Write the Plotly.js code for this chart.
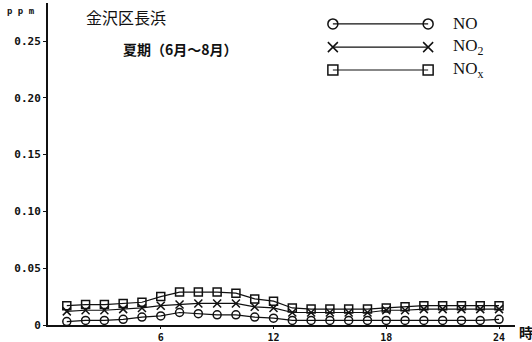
<!DOCTYPE html>
<html>
<head>
<meta charset="utf-8">
<script src="https://cdn.plot.ly/plotly-3.0.1.min.js"></script>
<style>
  html, body { margin: 0; padding: 0; background: #fff; }
  #chart { width: 532px; height: 342px; }
</style>
</head>
<body>
<div id="chart"></div>
<script>
// hours 1..24, values in ppm
const hours = [1, 2, 3, 4, 5, 6, 7, 8, 9, 10, 11, 12, 13, 14, 15, 16, 17, 18, 19, 20, 21, 22, 23, 24];
const noValues = [0.003, 0.004, 0.004, 0.005, 0.007, 0.008, 0.011, 0.010, 0.009, 0.009, 0.007, 0.006,
                  0.004, 0.004, 0.004, 0.004, 0.004, 0.004, 0.004, 0.004, 0.004, 0.004, 0.004, 0.005];
const no2Values = [0.012, 0.013, 0.013, 0.014, 0.015, 0.017, 0.018, 0.019, 0.019, 0.019, 0.016, 0.015,
                   0.011, 0.011, 0.011, 0.011, 0.011, 0.013, 0.013, 0.014, 0.014, 0.014, 0.014, 0.014];
const noxValues = [0.017, 0.018, 0.018, 0.019, 0.020, 0.025, 0.029, 0.029, 0.029, 0.028, 0.023, 0.021,
                   0.015, 0.014, 0.014, 0.014, 0.014, 0.015, 0.016, 0.017, 0.017, 0.017, 0.017, 0.017];
const xTicks = [6, 12, 18, 24];
const yTicks = [0, 0.05, 0.10, 0.15, 0.20, 0.25];
const yTickText = ['0', '0.05', '0.10', '0.15', '0.20', '0.25'];

const seriesNames = ['NO', 'NO\u2082', 'NO\u2093'];
const seriesSymbols = ['circle-open', 'x-thin-open', 'square-open'];
const seriesData = [noValues, no2Values, noxValues];

const traces = seriesData.map((vals, i) => ({
    type: 'scatter', mode: 'lines+markers', x: hours, y: vals, name: seriesNames[i],
    line: { color: '#111', width: 1.2 },
    marker: { symbol: seriesSymbols[i], size: 8, color: '#111', line: { width: 1.5, color: '#111' } },
    showlegend: false, cliponaxis: false
}));

// hand-made legend keys on an overlay axis (0..1 in both directions)
const legendRows = [0.935, 0.863, 0.792];
seriesNames.forEach((name, i) => {
    traces.push({
        type: 'scatter', mode: 'lines+markers', xaxis: 'x2', yaxis: 'y2',
        x: [0.61, 0.814], y: [legendRows[i], legendRows[i]],
        line: { color: '#111', width: 1.2 },
        marker: { symbol: seriesSymbols[i], size: 10, color: '#111', line: { width: 1.5, color: '#111' } },
        showlegend: false, hoverinfo: 'skip'
    });
});

const tickFont = { family: 'DejaVu Sans Mono', size: 11, color: '#111', weight: 'bold' };

const annotations = [
    { text: '金沢区長浜', x: 84, y: 17, font: { family: 'Noto Sans CJK JP', size: 16, color: '#111' } },
    { text: '<b>夏期（6月～8月）</b>', x: 121, y: 49, font: { family: 'Noto Sans CJK JP', size: 14, color: '#111' } },
    { text: '<b>p p m</b>', x: 5, y: 11, font: { family: 'DejaVu Sans Mono', size: 9, color: '#111' } },
    { text: '<b>時</b>', x: 517, y: 332, font: { family: 'Noto Sans CJK JP', size: 14, color: '#111' } }
].map(a => ({ ...a, xref: 'paper', yref: 'paper', showarrow: false, xanchor: 'left', yanchor: 'middle' }));

// convert pixel positions into paper coordinates
const W = 532, H = 342, mL = 48, mR = 17, mT = 3, mB = 17;
annotations.forEach(a => {
    a.x = (a.x - mL) / (W - mL - mR);
    a.y = 1 - (a.y - mT) / (H - mT - mB);
});

legendRows.forEach((r, i) => {
    annotations.push({
        text: i === 0 ? 'NO' : (i === 1 ? 'NO<sub>2</sub>' : 'NO<sub>x</sub>'),
        xref: 'x2', yref: 'y2', x: 0.862, y: r, showarrow: false, xanchor: 'left', yanchor: 'middle',
        font: { family: 'Liberation Serif', size: 17, color: '#111' }
    });
});

const layout = {
    width: W, height: H,
    margin: { l: mL, r: mR, t: mT, b: mB },
    paper_bgcolor: '#fff', plot_bgcolor: '#fff',
    showlegend: false,
    xaxis: {
        range: [0, 24.85], tickvals: xTicks, ticktext: xTicks.map(String),
        showgrid: false, zeroline: false, showline: true, linecolor: '#111', linewidth: 2,
        ticks: 'outside', ticklen: 2, tickcolor: '#111', fixedrange: true,
        tickfont: { ...tickFont, size: 10 }
    },
    yaxis: {
        range: [0, 0.2835], tickvals: yTicks, ticktext: yTickText,
        showgrid: false, zeroline: false, showline: true, linecolor: '#111', linewidth: 2,
        ticks: 'outside', ticklen: 3, tickcolor: '#111', tickfont: tickFont, fixedrange: true
    },
    xaxis2: { overlaying: 'x', range: [0, 1], visible: false, fixedrange: true },
    yaxis2: { overlaying: 'y', range: [0, 1], visible: false, fixedrange: true },
    annotations
};

Plotly.newPlot('chart', traces, layout, { staticPlot: true });
</script>
</body>
</html>
